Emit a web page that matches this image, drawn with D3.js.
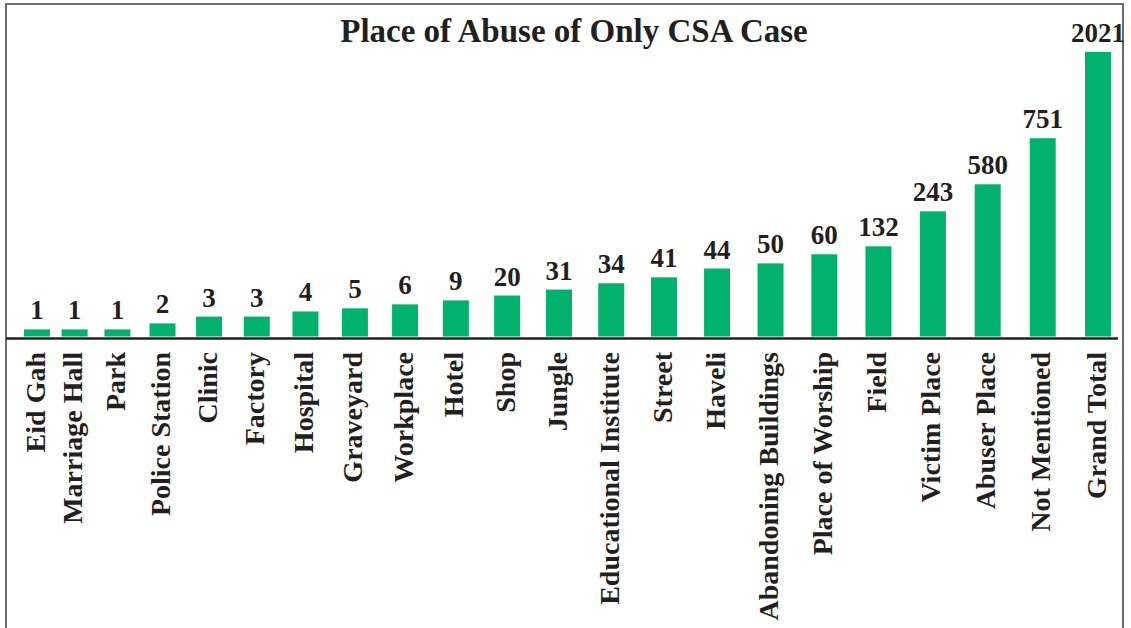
<!DOCTYPE html>
<html lang="en">
<head>
    <meta charset="UTF-8">
    <title>Place of Abuse of Only CSA Case</title>
    <script src="https://d3js.org/d3.v7.min.js"></script>
    <style>
        body {
            margin: 0;
            background: #fff;
        }
        svg {
            font-family: "Liberation Serif", "Times New Roman", serif;
            font-weight: bold;
        }
    </style>
</head>
<body>
<div id="chart"></div>
<script>
    // categories in drawing order
    const places = ["Eid Gah", "Marriage Hall", "Park", "Police Station", "Clinic", "Factory",
        "Hospital", "Graveyard", "Workplace", "Hotel", "Shop", "Jungle", "Educational Institute",
        "Street", "Haveli", "Abandoning Buildings", "Place of Worship", "Field", "Victim Place",
        "Abuser Place", "Not Mentioned", "Grand Total"];

    // case counts (the printed labels)
    const cases = [1, 1, 1, 2, 3, 3, 4, 5, 6, 9, 20, 31, 34, 41, 44, 50, 60, 132, 243, 580, 751, 2021];

    // bar lengths as drawn in the source (not proportional to counts), Grand Total = 100
    const barLength = [2.5, 2.5, 2.5, 4.6, 7.0, 7.0, 8.8, 9.9, 11.3, 12.7, 14.4, 16.5, 18.7, 20.8,
        23.9, 25.7, 28.9, 31.7, 44.0, 53.5, 69.7, 100];

    const width = 1131, height = 628;
    const baseY = 336.5;
    const barW = 26;

    const svg = d3.select("#chart")
        .append("svg")
        .attr("width", width)
        .attr("height", height);

    // frame
    svg.append("rect")
        .attr("x", 6)
        .attr("y", 4)
        .attr("width", 1117)
        .attr("height", 700)
        .attr("fill", "none")
        .attr("stroke", "#6b6b6b")
        .attr("stroke-width", 2);

    // category spacing widens slightly to the right in the source
    const x = d3.scalePow()
        .exponent(1.097)
        .domain([0, places.length - 1])
        .range([37, 1098]);

    const y = d3.scaleLinear()
        .domain([0, 100])
        .range([baseY, 52]);

    const data = places.map((p, i) => ({place: p, count: cases[i], len: barLength[i], i: i}));

    svg.selectAll(".bar")
        .data(data)
        .enter().append("rect")
        .attr("class", "bar")
        .attr("x", d => x(d.i) - barW / 2)
        .attr("y", d => y(d.len))
        .attr("width", barW)
        .attr("height", d => y(0) - y(d.len))
        .attr("fill", "#00b26b");

    svg.selectAll(".val")
        .data(data)
        .enter().append("text")
        .attr("class", "val")
        .attr("x", d => x(d.i))
        .attr("y", d => y(d.len) - 10)
        .attr("text-anchor", "middle")
        .attr("font-size", 27)
        .attr("fill", "#231f20")
        .text(d => d.count);

    // baseline
    svg.append("line")
        .attr("x1", 6)
        .attr("x2", 1118)
        .attr("y1", baseY + 2)
        .attr("y2", baseY + 2)
        .attr("stroke", "#231f20")
        .attr("stroke-width", 2.5);

    svg.selectAll(".cat")
        .data(data)
        .enter().append("text")
        .attr("class", "cat")
        .attr("transform", d => `translate(${x(d.i)},352) rotate(-90)`)
        .attr("dy", "0.27em")
        .attr("text-anchor", "end")
        .attr("font-size", 28)
        .attr("fill", "#231f20")
        .text(d => d.place);

    svg.append("text")
        .attr("x", 574)
        .attr("y", 42)
        .attr("text-anchor", "middle")
        .attr("font-size", 33)
        .attr("fill", "#231f20")
        .text("Place of Abuse of Only CSA Case");
</script>
</body>
</html>
